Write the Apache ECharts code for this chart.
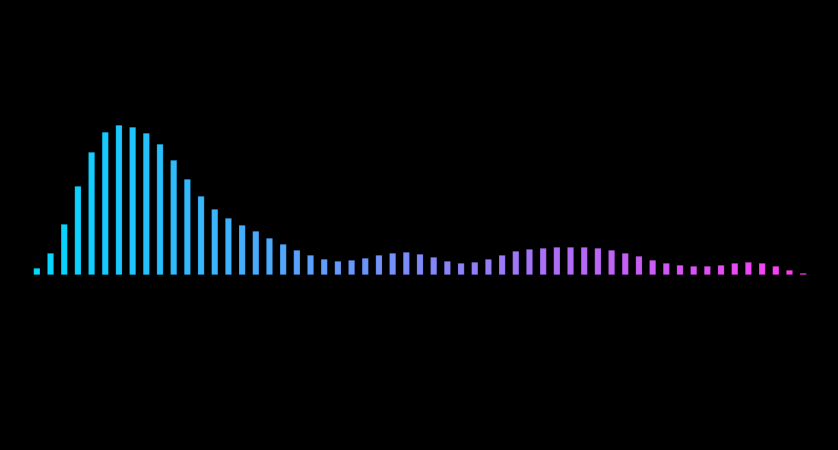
<!DOCTYPE html>
<html>
<head>
<meta charset="utf-8">
<style>html,body{margin:0;padding:0;background:#000;}#c{width:838px;height:450px;}</style>
<script src="https://cdn.jsdelivr.net/npm/echarts@6/dist/echarts.min.js"></script>
</head>
<body>
<div id="c"></div>
<script>
const categories = Array.from({length: 57}, (_, i) => String(i + 1));
const values = [7, 22, 51, 89, 123, 143, 150, 148, 142, 131, 115, 96, 79, 66, 57, 50, 44, 37, 31, 25, 20, 16, 14, 15, 17, 20, 22, 23, 21, 18, 14, 12, 13, 16, 20, 24, 26, 27, 28, 28, 28, 27, 25, 22, 19, 15, 12, 10, 9, 9, 10, 12, 13, 12, 9, 5, 2];
const colorStops = ['#00d8ff', '#ff3cf2'];

const chart = echarts.init(document.getElementById('c'));
chart.setOption({
  backgroundColor: '#000',
  animation: false,
  grid: {left: 30, right: 28, top: 125, bottom: 175},
  visualMap: {
    show: false,
    type: 'continuous',
    dimension: 0,
    min: 0,
    max: categories.length - 1,
    inRange: {color: colorStops}
  },
  xAxis: {
    type: 'category',
    data: categories,
    show: false
  },
  yAxis: {
    type: 'value',
    min: 0,
    max: 150,
    show: false
  },
  series: [{
    type: 'bar',
    data: values,
    barWidth: '50%',
    itemStyle: {borderColor: 'rgba(0,0,0,0.25)', borderWidth: 0.6}
  }]
});
</script>
</body>
</html>
